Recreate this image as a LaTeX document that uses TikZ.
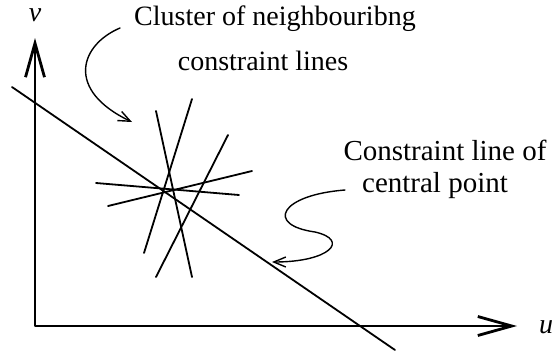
\documentclass[tikz,border=0pt]{standalone}
\usepackage{fontspec}
\setmainfont{Liberation Serif}
\usetikzlibrary{arrows.meta}

\begin{document}
\begin{tikzpicture}[
   x=1pt,
   y=-1pt,
   line cap=round,
   line join=round,
   every node/.style={font=\fontsize{28}{32}\selectfont,inner sep=0pt,anchor=base},
   axisline/.style={line width=2.2pt,
     {Straight Barb[length=34pt,width=19pt,line width=2.8pt]}-{Straight Barb[length=34pt,width=19pt,line width=2.8pt]}},
   cline/.style={line width=1.8pt},
   pointer/.style={line width=1.4pt,-{Straight Barb[length=12pt,width=10pt,line width=1.4pt]}}
 ]
   \useasboundingbox (0,0) rectangle (554,354);

   % Axes of the (u,v) plane.
   \coordinate (O) at (35,326);
   \coordinate (vtip) at (35,38);
   \coordinate (utip) at (517,326);
   \draw[axisline] (vtip) -- (O) -- (utip);
   \node (vlab) at (35,21) {\textit{v}};
   \node (ulab) at (546,333) {\textit{u}};

   % Constraint line of the central point.
   \draw[cline] (12,87) -- (395,350);

   % Neighbouring constraint lines, all passing close to one spot.
   \draw[cline] (156,111) -- (192,277);
   \draw[cline] (192,99) -- (144,253);
   \draw[cline] (228,135) -- (156,277);
   \draw[cline] (96,183) -- (239,195);
   \draw[cline] (108,206) -- (252,171);

   % Labels and their pointers.
   \node (clustertop) at (275,25) {Cluster of neighbouribng};
   \node (clusterbot) at (263,70) {constraint lines};
   \node[font=\fontsize{29}{32}\selectfont] (centraltop) at (445,160) {Constraint line of};
   \node[font=\fontsize{29}{32}\selectfont] (centralbot) at (435,192) {central point};

   \coordinate (clusterfrom) at (120,28);
   \coordinate (clusterto) at (132,122);
   \draw[pointer] (clusterfrom) .. controls (80,45) and (65,90) .. (clusterto);

   \coordinate (centralfrom) at (345,190);
   \coordinate (centralto) at (272,262);
   \draw[pointer] (centralfrom) .. controls (280,195) and (265,225) .. (315,232)
     .. controls (350,240) and (330,262) .. (centralto);
 \end{tikzpicture}
\end{document}
